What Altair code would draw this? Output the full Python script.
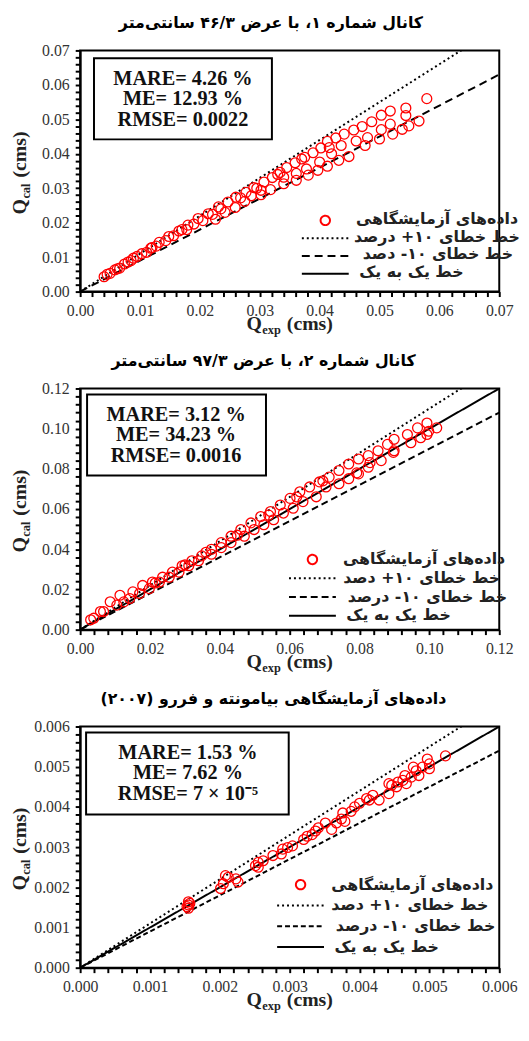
import altair as alt
import pandas as pd

# ---------------- data ----------------
# Panel 1 : channel 1 (width 46.3 cm)
p1_x = [0.0040, 0.0045, 0.0050, 0.0058, 0.0066, 0.0074, 0.0080, 0.0089, 0.0095, 0.0103,
        0.0111, 0.0118, 0.0127, 0.0132, 0.0143, 0.0148, 0.0156, 0.0165, 0.0178, 0.0180,
        0.0190, 0.0197, 0.0205, 0.0214, 0.0221, 0.0226, 0.0231, 0.0242, 0.0247, 0.0259,
        0.0260, 0.0275, 0.0277, 0.0286, 0.0290, 0.0302, 0.0302, 0.0307, 0.0318, 0.0321,
        0.0334, 0.0340, 0.0340, 0.0345, 0.0359, 0.0361, 0.0361, 0.0375, 0.0378, 0.0381,
        0.0389, 0.0397, 0.0400, 0.0402, 0.0413, 0.0413, 0.0416, 0.0427, 0.0432, 0.0436,
        0.0441, 0.0449, 0.0457, 0.0461, 0.0471, 0.0476, 0.0480, 0.0487, 0.0500, 0.0503,
        0.0503, 0.0518, 0.0518, 0.0522, 0.0538, 0.0544, 0.0544, 0.0549, 0.0566, 0.0579,
        0.0062, 0.0085, 0.0120, 0.0170, 0.0235, 0.0268, 0.0295, 0.0330, 0.0370, 0.0420]
p1_y = [0.0043, 0.0050, 0.0053, 0.0063, 0.0068, 0.0080, 0.0086, 0.0097, 0.0102, 0.0110,
        0.0114, 0.0126, 0.0132, 0.0143, 0.0148, 0.0160, 0.0162, 0.0176, 0.0180, 0.0193,
        0.0196, 0.0212, 0.0206, 0.0226, 0.0224, 0.0210, 0.0246, 0.0230, 0.0260, 0.0244,
        0.0274, 0.0262, 0.0288, 0.0278, 0.0302, 0.0281, 0.0294, 0.0318, 0.0296, 0.0331,
        0.0346, 0.0313, 0.0332, 0.0360, 0.0374, 0.0323, 0.0343, 0.0390, 0.0356, 0.0338,
        0.0403, 0.0352, 0.0376, 0.0417, 0.0436, 0.0364, 0.0418, 0.0446, 0.0381, 0.0424,
        0.0457, 0.0392, 0.0469, 0.0437, 0.0479, 0.0424, 0.0447, 0.0493, 0.0443, 0.0470,
        0.0512, 0.0486, 0.0524, 0.0457, 0.0471, 0.0533, 0.0511, 0.0481, 0.0495, 0.0560,
        0.0066, 0.0090, 0.0128, 0.0180, 0.0240, 0.0272, 0.0300, 0.0340, 0.0385, 0.0400]

# Panel 2 : channel 2 (width 97.3 cm)
p2_x = [0.0030, 0.0039, 0.0058, 0.0067, 0.0086, 0.0105, 0.0114, 0.0142, 0.0151, 0.0170,
        0.0179, 0.0198, 0.0207, 0.0227, 0.0236, 0.0255, 0.0264, 0.0283, 0.0292, 0.0311,
        0.0320, 0.0339, 0.0348, 0.0376, 0.0376, 0.0404, 0.0404, 0.0432, 0.0432, 0.0460,
        0.0470, 0.0489, 0.0498, 0.0517, 0.0526, 0.0545, 0.0554, 0.0573, 0.0582, 0.0601,
        0.0610, 0.0629, 0.0638, 0.0657, 0.0676, 0.0685, 0.0704, 0.0713, 0.0741, 0.0741,
        0.0769, 0.0769, 0.0792, 0.0797, 0.0797, 0.0825, 0.0825, 0.0830, 0.0853, 0.0862,
        0.0880, 0.0897, 0.0899, 0.0899, 0.0937, 0.0947, 0.0966, 0.0975, 0.0993, 0.0993,
        0.0998, 0.1021, 0.0125, 0.0215, 0.0300, 0.0360, 0.0450, 0.0540, 0.0620, 0.0695]
p2_y = [0.0049, 0.0057, 0.0090, 0.0090, 0.0139, 0.0122, 0.0171, 0.0155, 0.0188, 0.0180,
        0.0220, 0.0204, 0.0237, 0.0237, 0.0261, 0.0261, 0.0286, 0.0286, 0.0318, 0.0318,
        0.0343, 0.0343, 0.0367, 0.0400, 0.0375, 0.0433, 0.0408, 0.0465, 0.0433, 0.0498,
        0.0465, 0.0531, 0.0498, 0.0563, 0.0522, 0.0588, 0.0547, 0.0620, 0.0580, 0.0653,
        0.0604, 0.0686, 0.0637, 0.0710, 0.0661, 0.0735, 0.0710, 0.0759, 0.0792, 0.0726,
        0.0824, 0.0751, 0.0780, 0.0849, 0.0775, 0.0866, 0.0808, 0.0831, 0.0890, 0.0841,
        0.0922, 0.0882, 0.0947, 0.0890, 0.0971, 0.0930, 0.1004, 0.0955, 0.1028, 0.0971,
        0.0987, 0.1004, 0.0138, 0.0232, 0.0322, 0.0385, 0.0470, 0.0570, 0.0660, 0.0740]

# Panel 3 : Piemonte & Ferro (2007) laboratory data
p3_x = [0.00153, 0.00155, 0.00155, 0.00155, 0.00157, 0.00201, 0.00205, 0.00208, 0.00212, 0.00223,
        0.00226, 0.00251, 0.00255, 0.00255, 0.00262, 0.00276, 0.00288, 0.00290, 0.00297, 0.00304,
        0.00320, 0.00325, 0.00332, 0.00337, 0.00341, 0.00351, 0.00360, 0.00367, 0.00374, 0.00376,
        0.00379, 0.00388, 0.00393, 0.00400, 0.00410, 0.00414, 0.00419, 0.00428, 0.00442, 0.00442,
        0.00446, 0.00453, 0.00455, 0.00462, 0.00465, 0.00467, 0.00474, 0.00477, 0.00481, 0.00485,
        0.00490, 0.00497, 0.00500, 0.00500, 0.00523]
p3_y = [0.00152, 0.00164, 0.00156, 0.00148, 0.00160, 0.00197, 0.00209, 0.00229, 0.00225, 0.00221,
        0.00213, 0.00254, 0.00262, 0.00250, 0.00266, 0.00279, 0.00283, 0.00295, 0.00299, 0.00303,
        0.00319, 0.00327, 0.00331, 0.00340, 0.00348, 0.00360, 0.00344, 0.00360, 0.00370, 0.00385,
        0.00364, 0.00389, 0.00400, 0.00409, 0.00421, 0.00417, 0.00429, 0.00417, 0.00458, 0.00433,
        0.00454, 0.00450, 0.00462, 0.00466, 0.00478, 0.00458, 0.00474, 0.00499, 0.00490, 0.00478,
        0.00499, 0.00519, 0.00507, 0.00495, 0.00527]

titles = ["کانال شماره ۱، با عرض ۴۶/۳ سانتی‌متر",
          "کانال شماره ۲، با عرض ۹۷/۳ سانتی‌متر",
          "داده‌های آزمایشگاهی بیامونته و فررو (۲۰۰۷)"]

lab_points = "داده‌های آزمایشگاهی"
lab_plus = ["خط خطای ۱۰+ درصد", "خط خطای ۱۰+ دصد", "خط خطای ۱۰+ دصد"]
lab_minus = ["خط خطای ۱۰- دصد", "خط خطای ۱۰- درصد", "خط خطای ۱۰- درصد"]
lab_one = "خط یک به یک"

stats = [["MARE= 4.26 %", "ME= 12.93 %", "RMSE= 0.0022"],
         ["MARE= 3.12 %", "ME= 34.23 %", "RMSE= 0.0016"],
         ["MARE= 1.53 %", "ME= 7.62 %", "RMSE= 7 × 10⁻⁵"]]

x_title = ["Q", "exp", "(cms)"]
y_title = ["Q", "cal", "(cms)"]

axis_max = [0.07, 0.12, 0.006]
major_step = [0.01, 0.02, 0.001]
label_fmt = [".2f", ".2f", ".3f"]
draw_identity = [False, True, True]

W, H = 424, 244

# ---------------- layout (pixels inside each plot area) ----------------
box_layout = [(14, 194, 8, 90, 104, 29),
              (7, 188, 6, 88, 97, 27),
              (6, 211, 6, 89, 109, 27)]
legend_xy = [(239, 163), (226, 164), (214, 151)]
legend_rowpad = [0.0, 1.0, 3.0]
legend_text_anchor = [(443, 445, 438, 388),
                      (430, 425, 432, 375),
                      (418, 413, 420, 363)]
legend_row_y = [(171, 189, 206, 224), (173, 192, 211, 229), (160, 181, 202, 223)]
title_dx = [6, 2, 10]
dashes = [[8, 5], [7, 4], [5, 3]]

BIG, SUB = 20, 12.5


def axis_title_layers(parts, rotated):
    one = alt.Data(values=[{}])
    w_q = 0.778 * BIG
    w_sub = {"exp": 1.5, "cal": 1.222}[parts[1]] * SUB
    gap = 0.3 * BIG
    total = w_q + 0.5 + w_sub + gap + 2.332 * BIG
    offs = [0, w_q + 0.5, w_q + 0.5 + w_sub + gap]
    sizes = [BIG, SUB, BIG]
    shifts = [0, 4, 0]
    layers = []
    for k, s in enumerate(parts):
        if rotated:
            enc = dict(x=alt.value(-55 + shifts[k]), y=alt.value(H / 2 + 2 + total / 2 - offs[k]))
            mk = dict(angle=270)
        else:
            enc = dict(x=alt.value(W / 2 - total / 2 + offs[k]), y=alt.value(H + 39 + shifts[k]))
            mk = {}
        layers.append(alt.Chart(one).mark_text(
            font="Liberation Serif", fontWeight="bold", fontSize=sizes[k], color="#222",
            align="left", baseline="alphabetic", **mk
        ).encode(text=alt.value(s), **enc))
    return layers


def panel(i, xs, ys):
    mx = axis_max[i]
    dom = [lab_points, lab_plus[i], lab_minus[i], lab_one]
    pts = pd.DataFrame({"Qexp": xs, "Qcal": ys, "series": lab_points})
    rows = [(0, 0, lab_plus[i]), (mx, 1.1 * mx, lab_plus[i]),
            (0, 0, lab_minus[i]), (mx, 0.9 * mx, lab_minus[i])]
    if draw_identity[i]:
        rows += [(0, 0, lab_one), (mx, mx, lab_one)]
    lines = pd.DataFrame(rows, columns=["Qexp", "Qcal", "series"])

    minor = major_step[i] / 5
    n = int(round(mx / minor))
    tick_vals = [round(k * minor, 7) for k in range(n + 1)]
    unit = round(major_step[i] * 1e6)
    lab_expr = (f"(round(datum.value*1e6) % {unit} == 0) ? "
                f"format(datum.value, '{label_fmt[i]}') : ''")

    xenc = alt.X("Qexp:Q", scale=alt.Scale(domain=[0, mx], nice=False, zero=True),
                 axis=alt.Axis(values=tick_vals, labelExpr=lab_expr, title=None,
                               labelOverlap=False, labelFlush=False))
    yenc = alt.Y("Qcal:Q", scale=alt.Scale(domain=[0, mx], nice=False, zero=True),
                 axis=alt.Axis(values=tick_vals, labelExpr=lab_expr, title=None,
                               labelOverlap=False, labelFlush=False))

    # legend: symbols come from the scales; the Persian labels are drawn as text marks
    lx, ly = legend_xy[i]
    legend = alt.Legend(title=None, orient="none", legendX=lx, legendY=ly,
                        labelFontSize=18, labelExpr="''", labelOffset=0,
                        rowPadding=legend_rowpad[i],
                        symbolSize=90, symbolStrokeWidth=2, padding=0)
    color = alt.Color("series:N", scale=alt.Scale(domain=dom, range=["#ff0000", "black", "black", "black"]),
                      legend=legend)
    shape = alt.Shape("series:N", scale=alt.Scale(domain=dom, range=["circle", "M-5,0H5", "M-5,0H5", "M-5,0H5"]),
                      legend=legend)
    sdash = alt.StrokeDash("series:N", scale=alt.Scale(domain=dom, range=[[1, 0], [2, 3], dashes[i], [1, 0]]),
                           legend=legend)

    line_layer = alt.Chart(lines).mark_line(strokeWidth=2, clip=True).encode(
        x=xenc, y=yenc, color=color, strokeDash=sdash, detail="series:N")
    point_layer = alt.Chart(pts).mark_point(filled=False, size=100, strokeWidth=1.3, opacity=1).encode(
        x=xenc, y=yenc, color=color, shape=shape)

    one = alt.Data(values=[{}])
    legend_texts = [alt.Chart(one).mark_text(font="DejaVu Sans", fontWeight="bold", fontSize=16,
                                             color="#222", align="right", baseline="middle").encode(
        x=alt.value(legend_text_anchor[i][k]), y=alt.value(legend_row_y[i][k]), text=alt.value(lab))
        for k, lab in enumerate(dom)]

    bx1, bx2, by1, by2, tcx, ty = box_layout[i]
    box = alt.Chart(one).mark_rect(fill="white", stroke="black", strokeWidth=2).encode(
        x=alt.value(bx1), x2=alt.value(bx2), y=alt.value(by1), y2=alt.value(by2))
    texts = [alt.Chart(one).mark_text(font="Liberation Serif", fontWeight="bold", fontSize=20.5,
                                      color="#111", baseline="middle").encode(
        x=alt.value(tcx), y=alt.value(ty + 20.5 * k), text=alt.value(s))
        for k, s in enumerate(stats[i])]

    return alt.layer(line_layer, point_layer, box, *texts, *legend_texts,
                     *axis_title_layers(x_title, False),
                     *axis_title_layers(y_title, True)).properties(
        width=W, height=H,
        title=alt.TitleParams(titles[i], font="DejaVu Sans", fontSize=16, fontWeight="bold",
                              anchor="middle", frame="bounds", offset=12, color="black",
                              dx=title_dx[i]),
    ).resolve_scale(color="shared", shape="shared", strokeDash="shared")


chart = alt.vconcat(
    panel(0, p1_x, p1_y),
    panel(1, p2_x, p2_y),
    panel(2, p3_x, p3_y),
    spacing=14,
).resolve_scale(x="independent", y="independent", color="independent",
                shape="independent", strokeDash="independent"
).resolve_legend(color="independent", shape="independent", strokeDash="independent"
).properties(
    padding={"left": 1, "top": 0, "right": 0, "bottom": 0}
).configure_view(stroke="black", strokeWidth=2
).configure_axis(
    grid=False, domainColor="black", domainWidth=2, tickColor="black", tickWidth=2,
    tickSize=5, labelFont="Liberation Serif", labelFontSize=16, labelColor="#333",
    labelPadding=6
)

chart.save("out.html", embed_options={"renderer": "svg", "actions": False})
